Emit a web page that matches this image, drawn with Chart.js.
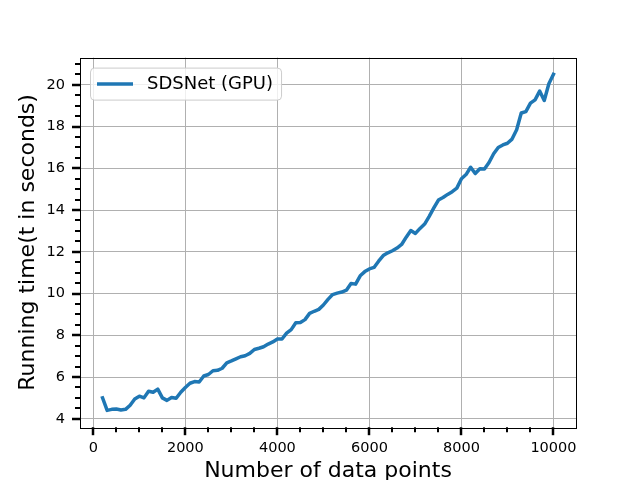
<!DOCTYPE html>
<html>
<head>
<meta charset="utf-8">
<script src="https://cdn.jsdelivr.net/npm/chart.js@4.4.1/dist/chart.umd.min.js"></script>
<style>
  html, body { margin: 0; padding: 0; background: #fff; }
</style>
</head>
<body>
<canvas id="myChart" width="640" height="480"></canvas>
<script>
// Données
var nbPoints = [200, 300, 400, 500, 600, 700, 800, 900, 1000, 1100,
  1200, 1300, 1400, 1500, 1600, 1700, 1800, 1900, 2000, 2100,
  2200, 2300, 2400, 2500, 2600, 2700, 2800, 2900, 3000, 3100,
  3200, 3300, 3400, 3500, 3600, 3700, 3800, 3900, 4000, 4100,
  4200, 4300, 4400, 4500, 4600, 4700, 4800, 4900, 5000, 5100,
  5200, 5300, 5400, 5500, 5600, 5700, 5800, 5900, 6000, 6100,
  6200, 6300, 6400, 6500, 6600, 6700, 6800, 6900, 7000, 7100,
  7200, 7300, 7400, 7500, 7600, 7700, 7800, 7900, 8000, 8100,
  8200, 8300, 8400, 8500, 8600, 8700, 8800, 8900, 9000, 9100,
  9200, 9300, 9400, 9500, 9600, 9700, 9800, 9900, 10000];

var tempsGPU = [5.0, 4.4, 4.45, 4.47, 4.42, 4.45, 4.65, 4.95, 5.08, 5.0,
  5.32, 5.27, 5.42, 5.0, 4.88, 5.02, 4.98, 5.27, 5.5, 5.7,
  5.78, 5.76, 6.05, 6.12, 6.3, 6.32, 6.42, 6.68, 6.77, 6.87,
  6.97, 7.02, 7.13, 7.32, 7.38, 7.45, 7.58, 7.68, 7.82, 7.82,
  8.1, 8.27, 8.6, 8.61, 8.75, 9.05, 9.15, 9.24, 9.45, 9.72,
  9.95, 10.02, 10.07, 10.16, 10.48, 10.45, 10.85, 11.05, 11.18, 11.25,
  11.55, 11.82, 11.95, 12.05, 12.18, 12.35, 12.7, 13.02, 12.88, 13.12,
  13.33, 13.7, 14.1, 14.48, 14.6, 14.75, 14.88, 15.05, 15.5, 15.7,
  16.05, 15.75, 15.98, 15.97, 16.28, 16.7, 17.0, 17.12, 17.2, 17.4,
  17.85, 18.65, 18.72, 19.12, 19.28, 19.7, 19.25, 20.05, 20.5];

var xTicksMajeurs = [0, 2000, 4000, 6000, 8000, 10000];
var xTicksMineurs = [500, 1000, 1500, 2500, 3000, 3500, 4500, 5000, 5500,
  6500, 7000, 7500, 8500, 9000, 9500];
var yTicksMajeurs = [4, 6, 8, 10, 12, 14, 16, 18, 20];
var yTicksMineurs = [3.5, 4.5, 5, 5.5, 6.5, 7, 7.5, 8.5, 9, 9.5, 10.5, 11, 11.5,
  12.5, 13, 13.5, 14.5, 15, 15.5, 16.5, 17, 17.5, 18.5, 19, 19.5, 20.5, 21];

var couleur = '#1f77b4';

Chart.defaults.font.family = "'DejaVu Sans', sans-serif";
Chart.defaults.color = '#000';

// Cadre, petites graduations et légende façon matplotlib
var cadrePlugin = {
  id: 'cadre',
  afterDraw: function (chart) {
    var ctx = chart.ctx;
    var a = chart.chartArea;
    var sx = chart.scales.x, sy = chart.scales.y;
    ctx.save();
    ctx.strokeStyle = '#000';

    function tickX(v, len, w) {
      var px = Math.round(sx.getPixelForValue(v));
      ctx.lineWidth = w;
      ctx.beginPath();
      ctx.moveTo(px, a.bottom);
      ctx.lineTo(px, a.bottom + len);
      ctx.stroke();
    }
    function tickY(v, len, w) {
      var py = Math.round(sy.getPixelForValue(v));
      if (py < a.top || py > a.bottom) return;
      ctx.lineWidth = w;
      ctx.beginPath();
      ctx.moveTo(a.left, py);
      ctx.lineTo(a.left - len, py);
      ctx.stroke();
    }
    xTicksMajeurs.forEach(function (v) { tickX(v, 8, 2.5); });
    xTicksMineurs.forEach(function (v) { tickX(v, 5, 2); });
    yTicksMajeurs.forEach(function (v) { tickY(v, 8, 2.5); });
    yTicksMineurs.forEach(function (v) { tickY(v, 5, 2); });

    // cadre
    ctx.lineWidth = 1;
    ctx.strokeRect(Math.round(a.left) + 0.5, Math.round(a.top) + 0.5,
      Math.round(a.right - a.left), Math.round(a.bottom - a.top));

    // légende
    var ds = chart.data.datasets[0];
    ctx.font = "18px 'DejaVu Sans'";
    var tw = ctx.measureText(ds.label).width;
    var bx = a.left + 10, by = a.top + 10;
    var textX = bx + 57;
    var bw = textX - bx + tw + 8, bh = 32;
    ctx.beginPath();
    ctx.roundRect(bx + 0.5, by + 0.5, bw, bh, 4);
    ctx.fillStyle = 'rgba(255,255,255,0.8)';
    ctx.fill();
    ctx.strokeStyle = '#cccccc';
    ctx.lineWidth = 1;
    ctx.stroke();
    ctx.strokeStyle = ds.borderColor;
    ctx.lineWidth = ds.borderWidth;
    ctx.lineCap = 'butt';
    ctx.beginPath();
    ctx.moveTo(bx + 7, by + bh / 2 + 0.5);
    ctx.lineTo(bx + 43, by + bh / 2 + 0.5);
    ctx.stroke();
    ctx.fillStyle = '#000';
    ctx.textBaseline = 'middle';
    ctx.fillText(ds.label, textX, by + bh / 2 + 1);
    ctx.restore();
  }
};

var ctx = document.getElementById('myChart').getContext('2d');
var myChart = new Chart(ctx, {
  type: 'line',
  data: {
    datasets: [{
      label: 'SDSNet (GPU)',
      data: nbPoints.map(function (x, i) { return { x: x, y: tempsGPU[i] }; }),
      borderColor: couleur,
      backgroundColor: couleur,
      borderWidth: 3.5,
      borderJoinStyle: 'round',
      borderCapStyle: 'square',
      pointRadius: 0,
      fill: false,
      tension: 0
    }]
  },
  options: {
    responsive: false,
    devicePixelRatio: 1,
    animation: false,
    layout: { padding: { top: 57.6, right: 64, left: 0, bottom: 0 } },
    plugins: {
      legend: { display: false },
      tooltip: { enabled: false }
    },
    scales: {
      x: {
        type: 'linear',
        min: -290,
        max: 10490,
        afterBuildTicks: function (scale) {
          scale.ticks = xTicksMajeurs.map(function (v) { return { value: v }; });
        },
        afterFit: function (scale) { scale.height = 52.8; },
        ticks: {
          font: { size: 14.5 },
          color: '#000',
          padding: 12,
          maxRotation: 0,
          autoSkip: false,
          callback: function (v) { return String(v); }
        },
        grid: { color: '#b0b0b0', lineWidth: 1, drawTicks: false },
        border: { display: false },
        title: {
          display: true,
          text: 'Number of data points',
          font: { size: 22 },
          color: '#000',
          padding: { top: 0, bottom: -4 }
        }
      },
      y: {
        type: 'linear',
        min: 3.595,
        max: 21.305,
        afterBuildTicks: function (scale) {
          scale.ticks = yTicksMajeurs.map(function (v) { return { value: v }; });
        },
        afterFit: function (scale) { scale.width = 80; },
        ticks: {
          font: { size: 14.5 },
          color: '#000',
          padding: 15,
          autoSkip: false,
          callback: function (v) { return String(v); }
        },
        grid: { color: '#b0b0b0', lineWidth: 1, drawTicks: false },
        border: { display: false },
        title: {
          display: true,
          text: 'Running time(t in seconds)',
          font: { size: 22 },
          color: '#000',
          padding: { top: 15, bottom: 0 }
        }
      }
    }
  },
  plugins: [cadrePlugin]
});
</script>
</body>
</html>
